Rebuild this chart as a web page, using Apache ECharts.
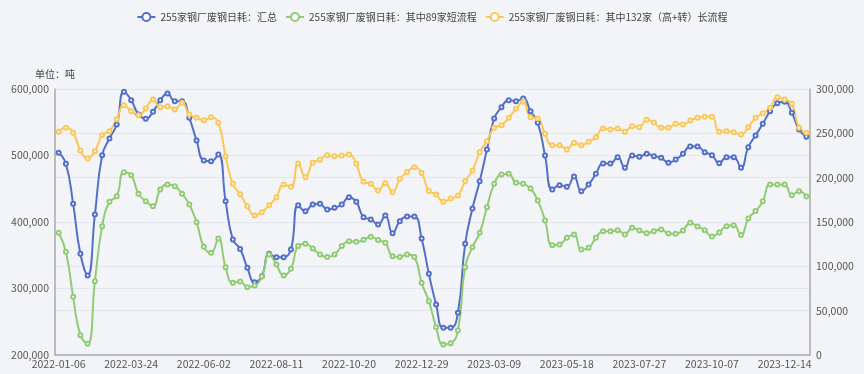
<!DOCTYPE html>
<html>
<head>
<meta charset="utf-8">
<script src="https://cdn.jsdelivr.net/npm/echarts@6/dist/echarts.min.js"></script>
<style>
html,body{margin:0;padding:0;background:#f3f4f7;}
#chart{width:864px;height:374px;}
</style>
</head>
<body>
<div id="chart"></div>
<script>
const categories = [
"2022-01-06","2022-01-13","2022-01-20","2022-01-27","2022-02-10","2022-02-17","2022-02-24","2022-03-03","2022-03-10","2022-03-17",
"2022-03-24","2022-03-31","2022-04-07","2022-04-14","2022-04-21","2022-04-28","2022-05-05","2022-05-12","2022-05-19","2022-05-26",
"2022-06-02","2022-06-09","2022-06-16","2022-06-23","2022-06-30","2022-07-07","2022-07-14","2022-07-21","2022-07-28","2022-08-04",
"2022-08-11","2022-08-18","2022-08-25","2022-09-01","2022-09-08","2022-09-15","2022-09-22","2022-09-29","2022-10-08","2022-10-13",
"2022-10-20","2022-10-27","2022-11-03","2022-11-10","2022-11-17","2022-11-24","2022-12-01","2022-12-08","2022-12-15","2022-12-22",
"2022-12-29","2023-01-05","2023-01-12","2023-01-19","2023-01-26","2023-02-02","2023-02-09","2023-02-16","2023-02-23","2023-03-02",
"2023-03-09","2023-03-16","2023-03-23","2023-03-30","2023-04-06","2023-04-13","2023-04-20","2023-04-27","2023-05-04","2023-05-11",
"2023-05-18","2023-05-25","2023-06-01","2023-06-08","2023-06-15","2023-06-21","2023-06-29","2023-07-06","2023-07-13","2023-07-20",
"2023-07-27","2023-08-03","2023-08-10","2023-08-17","2023-08-24","2023-08-31","2023-09-07","2023-09-14","2023-09-21","2023-09-28",
"2023-10-07","2023-10-12","2023-10-19","2023-10-26","2023-11-02","2023-11-09","2023-11-16","2023-11-23","2023-11-30","2023-12-07",
"2023-12-14","2023-12-21","2023-12-28","2024-01-04"
];

const seriesNames = [
"255家钢厂废钢日耗：汇总",
"255家钢厂废钢日耗：其中89家短流程",
"255家钢厂废钢日耗：其中132家（高+转）长流程"
];

// 汇总 (left axis)
const totalValues = [
504000,487500,427300,352100,319600,411300,500500,525600,546600,595700,
583200,561700,555100,565700,583200,593200,581700,581700,556600,522600,
492500,491500,501500,431300,373700,359500,331100,309500,318500,352100,
347100,347100,358600,425300,416300,426300,427300,418800,421300,426300,
437300,430300,407300,403800,396300,409800,383200,401300,408300,408300,
375200,322100,276000,240900,240900,263500,367200,420300,461400,509000,
555600,572700,583200,581700,585700,566700,549100,500000,448900,455400,
452900,468400,446400,456400,472400,488000,488000,497500,481500,500000,
498000,502500,499000,496500,489000,494000,502500,513500,513500,505000,
500500,488500,497500,497500,481500,512500,530100,547600,566700,578700,
580700,564200,539100,528100
];

// 短流程 (right axis)
const shortValues = [
137800,116400,65600,22400,12600,83300,145300,172800,179100,206200,
202800,181800,173500,167900,186700,192300,190400,181800,169800,149800,
122000,115200,131400,99100,81400,83000,76500,78400,88500,113400,
102100,89700,97200,122800,125400,120100,113400,110400,113400,122800,
128400,127700,129900,133300,129600,126600,111500,110400,113400,110400,
81400,60700,31400,11800,13300,27600,99100,121600,137800,166700,
193000,203600,204300,194200,193000,187800,174300,151700,123900,124600,
132100,135900,119000,120900,132100,139600,139600,140800,135900,143400,
140400,137400,139700,141500,137000,136700,140400,149100,145000,140800,
133700,138200,145300,146400,135200,154000,162300,173500,192300,192300,
192300,180300,184800,178800
];

// 长流程 (right axis)
const longValues = [
251700,256200,250600,230600,221600,229900,247900,252400,265600,281800,
275000,270500,278000,288200,279500,280600,276900,284400,271200,267500,
264800,268200,261800,224200,193000,181400,167900,157400,161100,169000,
178000,192300,189700,216000,200600,216700,220100,225400,224200,225000,
226100,215600,195300,193000,185500,193800,183500,198500,206400,211700,
205300,185000,181000,172700,176500,179800,196000,208100,228800,241200,
256200,259200,267500,277600,285500,268200,266700,249400,236600,236600,
231800,239300,236600,240400,245700,255500,254300,255500,251700,258100,
257000,265200,262200,256200,256200,260700,259900,264400,267500,268600,
268600,251700,252400,251300,248700,257000,267500,272700,278800,290800,
288200,283300,256200,250600
];

const colors = ["#5470c6", "#91cc75", "#fac858"];
const FONT = '"Noto Sans CJK SC", "Noto Sans", sans-serif';

function fmt(v){ return String(v).replace(/\B(?=(\d{3})+(?!\d))/g, ","); }

const chart = echarts.init(document.getElementById('chart'), null, {renderer:'canvas'});
const mk = (name, data, axis, color) => ({
  name, type:'line', data, yAxisIndex: axis, smooth:true,
  symbol:'emptyCircle', symbolSize:4, showSymbol:true,
  itemStyle:{color, borderWidth:1.2},
  lineStyle:{width:2, color}
});
chart.setOption({
  backgroundColor:'#f3f4f7',
  animation:false,
  color: colors,
  textStyle:{fontFamily:FONT},
  legend:{
    top:7, left:'center', itemWidth:18, itemHeight:10, itemGap:8,
    textStyle:{fontSize:10, color:'#444', fontFamily:FONT},
    data: seriesNames
  },
  grid:{left:55, right:54, top:89, bottom:19, containLabel:false},
  xAxis:{
    type:'category', data:categories, boundaryGap:true,
    axisLine:{lineStyle:{color:'#aaaaaa', width:1.5}},
    axisTick:{interval:9, length:4, lineStyle:{color:'#aaaaaa'}},
    axisLabel:{interval:9, fontSize:10.5, color:'#555', margin:4, fontFamily:FONT},
    splitLine:{show:false}
  },
  yAxis:[
    {
      type:'value', min:200000, max:600000, interval:100000, position:'left',
      name:'单位：吨', nameLocation:'end', nameGap:10,
      nameTextStyle:{fontSize:10, color:'#444', fontFamily:FONT, align:'center'},
      axisLine:{show:true, lineStyle:{color:'#aaaaaa', width:1.5}},
      axisTick:{show:false},
      axisLabel:{fontSize:10.5, color:'#555', margin:6, formatter:fmt, fontFamily:FONT},
      splitLine:{show:true, lineStyle:{color:'#e3e6ee'}}
    },
    {
      type:'value', min:0, max:300000, interval:50000, position:'right',
      axisLine:{show:true, lineStyle:{color:'#aaaaaa', width:1.5}},
      axisTick:{show:false},
      axisLabel:{fontSize:10.5, color:'#555', margin:6, formatter:fmt, fontFamily:FONT},
      splitLine:{show:true, lineStyle:{color:'#e3e6ee'}}
    }
  ],
  series:[
    mk(seriesNames[0], totalValues, 0, colors[0]),
    mk(seriesNames[1], shortValues, 1, colors[1]),
    mk(seriesNames[2], longValues, 1, colors[2])
  ]
});
</script>
</body>
</html>
